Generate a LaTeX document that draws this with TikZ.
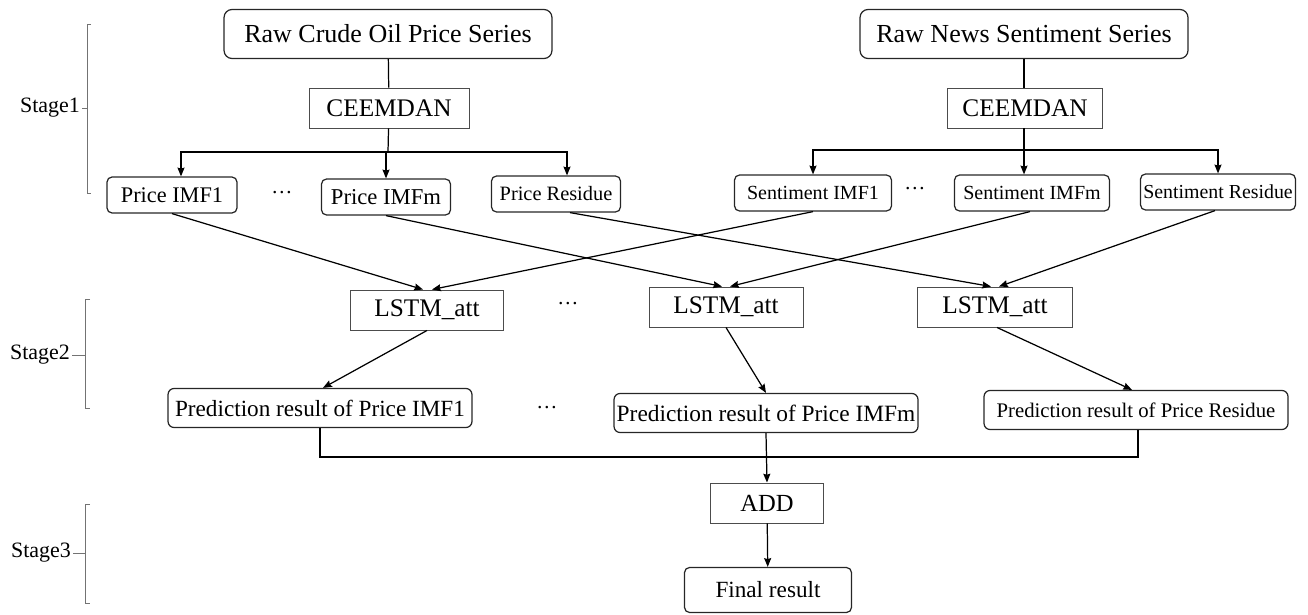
\documentclass[tikz,border=0pt]{standalone}
\usepackage{fontspec}
\setmainfont{Liberation Serif}
\usetikzlibrary{
		calc,
		arrows.meta
	}
\tikzset{
		>={Stealth[length=5pt,width=4pt,inset=0.6pt]},
		rawbox/.style={draw=black!85, line width=0.7pt, rounded corners=0.16cm, minimum width=6.56cm, minimum height=0.98cm, inner sep=1pt, font=\fontsize{14.8}{16}\selectfont},
		procbox/.style={draw=black!70, line width=0.55pt, minimum height=0.8cm, inner sep=1pt, font=\fontsize{14.4}{16}\selectfont},
		imfbox/.style={draw=black!85, line width=0.7pt, rounded corners=0.1cm, minimum height=0.72cm, inner sep=1pt},
		predbox/.style={draw=black!85, line width=0.7pt, rounded corners=0.12cm, minimum width=6.08cm, minimum height=0.78cm, inner sep=1pt},
		dotsnode/.style={inner sep=1pt, font=\fontsize{12}{13}\selectfont},
		stagelabel/.style={inner sep=1pt, font=\fontsize{12.5}{14}\selectfont},
		bracket/.style={draw=black!55, line width=0.5pt},
		link/.style={draw=black, line width=0.7pt}
	}

\begin{document}
\begin{tikzpicture}[x=0.02cm, y=-0.02cm]
    \useasboundingbox (0,0) rectangle (1308,615);

    % the raw series and the decompositions
    \node[rawbox] (rawP) at (388,34) {Raw Crude Oil Price Series};
    \node[rawbox] (rawN) at (1024,34) {Raw News Sentiment Series};
    \node[procbox, minimum width=3.2cm] (ceemP) at (389,108) {CEEMDAN};
    \node[procbox, minimum width=3.1cm] (ceemN) at (1025,108) {CEEMDAN};

    % the components of both series
    \node[imfbox, minimum width=2.6cm, font=\fontsize{12.7}{14}\selectfont] (pimf1) at (172,195) {Price IMF1};
    \node[dotsnode] (dots1) at (282,193) {…};
    \node[imfbox, minimum width=2.58cm, font=\fontsize{12.9}{14}\selectfont] (pimfm) at (386,197) {Price IMFm};
    \node[imfbox, minimum width=2.58cm, font=\fontsize{11.6}{13}\selectfont] (pres) at (556,194) {Price Residue};
    \node[imfbox, minimum width=3.14cm, font=\fontsize{11.4}{13}\selectfont] (simf1) at (813,193) {Sentiment IMF1};
    \node[dotsnode] (dots2) at (915,189) {…};
    \node[imfbox, minimum width=3.1cm, font=\fontsize{11.4}{13}\selectfont] (simfm) at (1032,193) {Sentiment IMFm};
    \node[imfbox, minimum width=3.1cm, font=\fontsize{11.3}{13}\selectfont] (sres) at (1218,192) {Sentiment Residue};

    % the models
    \node[procbox, minimum width=3.06cm] (lstm1) at (427,310) {LSTM\_att};
    \node[dotsnode] (dots3) at (568,304) {…};
    \node[procbox, minimum width=3.08cm] (lstm2) at (726,307) {LSTM\_att};
    \node[procbox, minimum width=3.1cm] (lstm3) at (995,307) {LSTM\_att};

    % the predictions
    \node[predbox, font=\fontsize{13.2}{15}\selectfont] (pred1) at (320,408) {Prediction result of Price IMF1};
    \node[dotsnode] (dots4) at (547,408) {…};
    \node[predbox, font=\fontsize{13.3}{15}\selectfont] (pred2) at (766,413) {Prediction result of Price IMFm};
    \node[predbox, font=\fontsize{11.8}{13}\selectfont] (pred3) at (1136,410) {Prediction result of Price Residue};

    % the sum
    \node[procbox, minimum width=2.26cm, font=\fontsize{14}{16}\selectfont] (add) at (767,503) {ADD};
    \node[imfbox, minimum width=3.34cm, minimum height=0.9cm, font=\fontsize{13.2}{15}\selectfont] (final) at (768,590) {Final result};

    % stage labels with their brackets
    \node[stagelabel] (st1) at (50,108) {Stage1};
    \node[stagelabel] (st2) at (40,355) {Stage2};
    \node[stagelabel] (st3) at (41,553) {Stage3};
    \draw[bracket] (91,24) -- (87,24) -- (87,193) -- (91,193) (87,108) -- (st1.east);
    \draw[bracket] (90,299) -- (85,299) -- (85,408) -- (90,408) (85,355) -- (st2.east);
    \draw[bracket] (90,504) -- (85,504) -- (85,603) -- (90,603) (85,553) -- (st3.east);

    % splitting of the series
    \coordinate (brP) at (388,152);
    \coordinate (brN) at (1024,150);
    \draw[link] (rawP) -- (ceemP);
    \draw[link] (ceemP) -- (brP);
    \draw[link, ->] (brP) -| ($(pimf1.north)+(9,0)$);
    \draw[link, ->] (brP) -| (pimfm.north);
    \draw[link, ->] (brP) -| ($(pres.north)+(11,0)$);
    \draw[link] (rawN) -- (rawN |- ceemN.north);
    \draw[link] (ceemN.south -| brN) -- (brN);
    \draw[link, ->] (brN) -| (simf1.north);
    \draw[link, ->] (brN) -| ($(simfm.north)+(-8,0)$);
    \draw[link, ->] (brN) -| (sres.north);

    % components into the models
    \draw[link, ->] (pimf1.south) -- ($(lstm1.north)+(-4,0)$);
    \draw[link, ->] (simf1.south) -- ($(lstm1.north)+(5,0)$);
    \draw[link, ->] (pimfm.south) -- ($(lstm2.north)+(-4,0)$);
    \draw[link, ->] ($(simfm.south)+(-2,0)$) -- ($(lstm2.north)+(4,0)$);
    \draw[link, ->] ($(pres.south)+(14,0)$) -- ($(lstm3.north)+(-4,0)$);
    \draw[link, ->] ($(sres.south)+(-3,0)$) -- ($(lstm3.north)+(4,0)$);

    % models into the predictions
    \draw[link, ->] (lstm1.south) -- ($(pred1.north)+(3,0)$);
    \draw[link, ->] (lstm2.south) -- (pred2.north);
    \draw[link, ->] ($(lstm3.south)+(2,0)$) -- ($(pred3.north)+(-4,0)$);

    % summing up
    \coordinate (merge) at (766,457);
    \draw[link] (pred1.south) |- (merge);
    \draw[link] ($(pred3.south)+(2,0)$) |- (merge);
    \draw[link, ->] (pred2.south) -- (add.north);
    \draw[link, ->] (add) -- (final);

\end{tikzpicture}
\end{document}
